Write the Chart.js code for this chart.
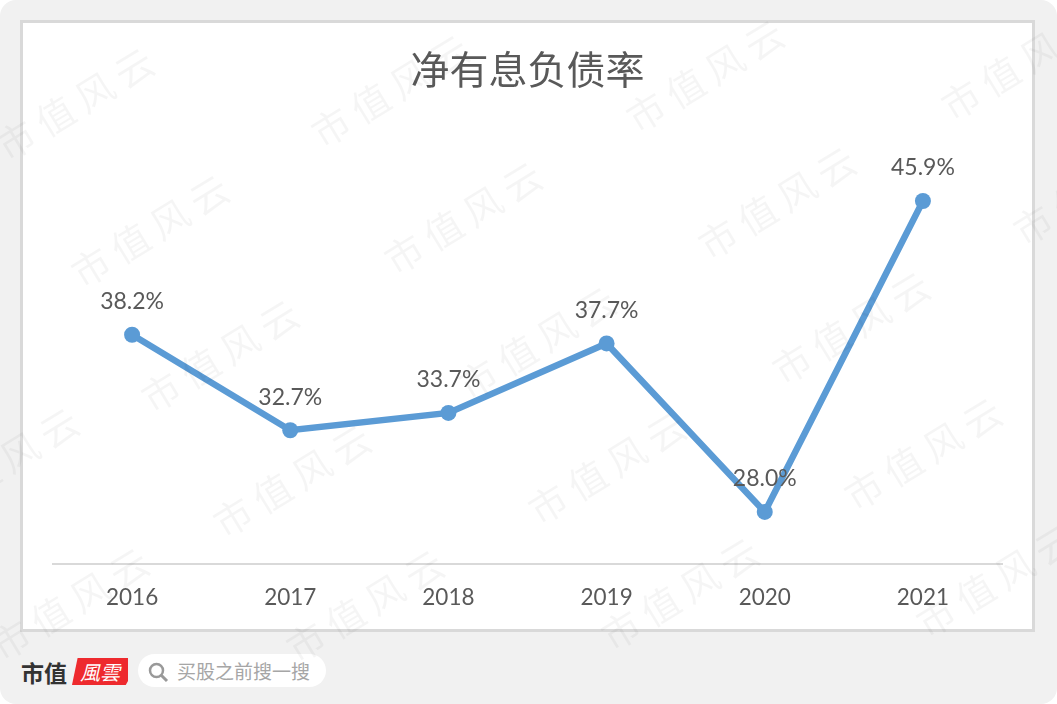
<!DOCTYPE html>
<html lang="zh">
<head>
<meta charset="utf-8">
<title>净有息负债率</title>
<script src="https://cdn.jsdelivr.net/npm/chart.js@4/dist/chart.umd.min.js"></script>
<style>
  html, body { margin: 0; padding: 0; background: #ffffff; overflow: hidden; }
  #page { position: relative; width: 1057px; height: 704px; background: #f1f1f1; border-radius: 16px; overflow: hidden; }
  #frame { position: absolute; left: 20px; top: 20px; width: 1009px; height: 606px; background: #ffffff; border: 3px solid #d9d9d9; }
  #chart { position: absolute; left: 0; top: 0; }
  #brand { position: absolute; left: 21px; top: 658px; font: bold 23px/28px "Noto Sans CJK SC", serif; color: #333333; letter-spacing: 0; }
  #badge { position: absolute; left: 72px; top: 658px; width: 56px; height: 27px; background: #ee2a2e; clip-path: polygon(10% 0, 100% 0, 100% 85%, 96% 100%, 0 100%); color: #ffffff; font: italic 20px/27px "Noto Sans CJK TC", sans-serif; text-align: center; }
  #search { position: absolute; left: 138px; top: 654px; width: 188px; height: 33px; background: #ffffff; border-radius: 17px; }
  #search svg { position: absolute; left: 9px; top: 7px; }
  #search span { position: absolute; left: 39px; top: 0; font: 19px/33px "Noto Sans CJK SC", sans-serif; color: #a6a6a6; }
</style>
</head>
<body>
<div id="page">
  <div id="frame"></div>
  <div id="brand">市值</div>
  <div id="badge">風雲</div>
  <div id="search">
    <svg width="22" height="22" viewBox="0 0 22 22"><circle cx="9.5" cy="9.5" r="6.5" fill="none" stroke="#999999" stroke-width="2.5"/><line x1="14.5" y1="14.5" x2="20" y2="20" stroke="#999999" stroke-width="3"/></svg>
    <span>买股之前搜一搜</span>
  </div>
  <canvas id="chart" width="1057" height="704"></canvas>
</div>
<script>
const years = ['2016', '2017', '2018', '2019', '2020', '2021'];
const netDebtRatio = [38.2, 32.7, 33.7, 37.7, 28.0, 45.9];

const watermarkText = '市值风云';
// lower-left start of each repeated watermark
const watermarkX = [0, 75, 145, 217, 290, 315, 388, 462, 532, 605, 630, 702, 776, 848, 920, 945, 1017, -75, -5];
const watermarkY = [150, 277, 402, 527, 652, 137, 264, 389, 514, 640, 122, 249, 374, 500, 627, 110, 235, 510, 650];

// Value labels above each point
const valueLabels = {
  id: 'valueLabels',
  afterDatasetsDraw(chart) {
    const ctx = chart.ctx;
    const meta = chart.getDatasetMeta(0);
    ctx.save();
    ctx.font = '23px Lato, sans-serif';
    ctx.fillStyle = '#595959';
    ctx.textAlign = 'center';
    ctx.textBaseline = 'middle';
    meta.data.forEach((point, i) => {
      ctx.fillText(netDebtRatio[i].toFixed(1) + '%', point.x, point.y - 33);
    });
    ctx.restore();
  }
};

// Faint site watermark over everything
const watermark = {
  id: 'watermark',
  afterDraw(chart) {
    const ctx = chart.ctx;
    ctx.save();
    ctx.font = '38px "Noto Sans CJK SC", sans-serif';
    ctx.letterSpacing = '8px';
    ctx.fillStyle = 'rgba(0, 0, 0, 0.04)';
    ctx.textBaseline = 'middle';
    watermarkX.forEach((x, i) => {
      ctx.save();
      ctx.translate(x, watermarkY[i]);
      ctx.rotate(-31.5 * Math.PI / 180);
      ctx.fillText(watermarkText, 0, 0);
      ctx.restore();
    });
    ctx.restore();
  }
};

const ctx = document.getElementById('chart').getContext('2d');
new Chart(ctx, {
  type: 'line',
  data: {
    labels: years,
    datasets: [{
      data: netDebtRatio,
      borderColor: '#5b9bd5',
      backgroundColor: '#5b9bd5',
      borderWidth: 6.5,
      pointRadius: 8,
      pointBackgroundColor: '#5b9bd5',
      pointBorderWidth: 0,
      tension: 0,
      clip: false
    }]
  },
  options: {
    responsive: false,
    animation: false,
    layout: { padding: { left: 53, right: 55, top: 46, bottom: 73 } },
    plugins: {
      legend: { display: false },
      tooltip: { enabled: false },
      title: {
        display: true,
        text: '净有息负债率',
        color: '#595959',
        font: { family: '"Noto Sans CJK SC", sans-serif', size: 39, weight: 'normal' },
        padding: { top: 0, bottom: 37 }
      }
    },
    scales: {
      x: {
        offset: true,
        grid: { display: false, drawTicks: false, offset: true },
        border: { color: '#d9d9d9', width: 2 },
        ticks: { color: '#595959', font: { family: 'Lato, sans-serif', size: 22.5 }, padding: 20, maxRotation: 0 }
      },
      y: { display: false, min: 25, max: 50 }
    }
  },
  plugins: [valueLabels, watermark]
});
</script>
</body>
</html>
